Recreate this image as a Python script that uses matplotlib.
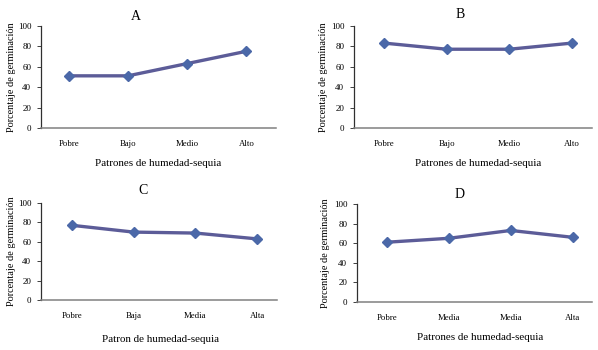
"""
Four small germination-percentage panels (A-D) across moisture/drought patterns.
"""
import matplotlib
matplotlib.use("Agg")
import matplotlib.pyplot as plt

plt.rcParams['font.family'] = ['Liberation Serif', 'DejaVu Serif']

# data
cats_a = ['Pobre', 'Bajo', 'Medio', 'Alto']
vals_a = [51, 51, 63, 75]
cats_b = ['Pobre', 'Bajo', 'Medio', 'Alto']
vals_b = [83, 77, 77, 83]
cats_c = ['Pobre', 'Baja', 'Media', 'Alta']
vals_c = [77, 70, 69, 63]
cats_d = ['Pobre', 'Media', 'Media', 'Alta']
vals_d = [61, 65, 73, 66]

titles = ['A', 'B', 'C', 'D']
xlabels = ['Patrones de humedad-sequia', 'Patrones de humedad-sequia',
           'Patron de humedad-sequia', 'Patrones de humedad-sequia']
ylabel = 'Porcentaje de germinación'
yticks = [0, 20, 40, 60, 80, 100]

W, H = 598, 350
line_col = '#5c5c98'
mark_col = '#4b68a8'

# panel geometry in pixels: left, right, top, bottom, xlim, title(x,y), xlabel(x,y), ylabel x
panels = [
    (41, 276, 25.7, 128, (-0.47, 3.5), (136, 17), (158, 163), 12),
    (354, 592, 25.7, 128, (-0.48, 3.32), (460, 15), (478, 163), 324),
    (41, 277, 203, 300, (-0.5, 3.32), (143, 191), (160, 340), 12),
    (357, 592, 204, 302, (-0.48, 3.31), (460, 195), (480, 337), 325),
]
data = [(cats_a, vals_a), (cats_b, vals_b), (cats_c, vals_c), (cats_d, vals_d)]

fig = plt.figure(figsize=(W / 100, H / 100), dpi=100)
fig.patch.set_facecolor('white')

for i, (geo, (cats, vals)) in enumerate(zip(panels, data)):
    left, right, top, bottom, xlim, tpos, xlpos, ylx = geo
    ax = fig.add_axes([left / W, 1 - bottom / H, (right - left) / W, (bottom - top) / H])
    ax.plot(range(len(cats)), vals, color=line_col, linewidth=2.4,
            marker='D', markersize=5.5, markerfacecolor=mark_col,
            markeredgecolor=mark_col, solid_capstyle='round', zorder=3)
    ax.set_xlim(*xlim)
    ax.set_ylim(0, 100)
    ax.set_yticks(yticks)
    ax.set_xticks(range(len(cats)))
    ax.set_xticklabels(cats)
    ax.tick_params(axis='x', length=0, pad=9, labelsize=6.3)
    ax.tick_params(axis='y', length=3, width=0.7, pad=4, labelsize=6.5, color='#404040')
    for s in ['top', 'right']:
        ax.spines[s].set_visible(False)
    ax.spines['left'].set_color('#303030')
    ax.spines['left'].set_linewidth(0.9)
    ax.spines['bottom'].set_color('#808080')
    ax.spines['bottom'].set_linewidth(1.1)
    ax.set_facecolor('none')

    fig.text(tpos[0] / W, 1 - tpos[1] / H, titles[i], ha='center', va='center', fontsize=10)
    fig.text(xlpos[0] / W, 1 - xlpos[1] / H, xlabels[i], ha='center', va='center', fontsize=7.9)
    fig.text(ylx / W, 1 - ((top + bottom) / 2) / H, ylabel, ha='center', va='center',
             rotation=90, fontsize=7.4)

fig.savefig('out.png', dpi=100, facecolor='white')
